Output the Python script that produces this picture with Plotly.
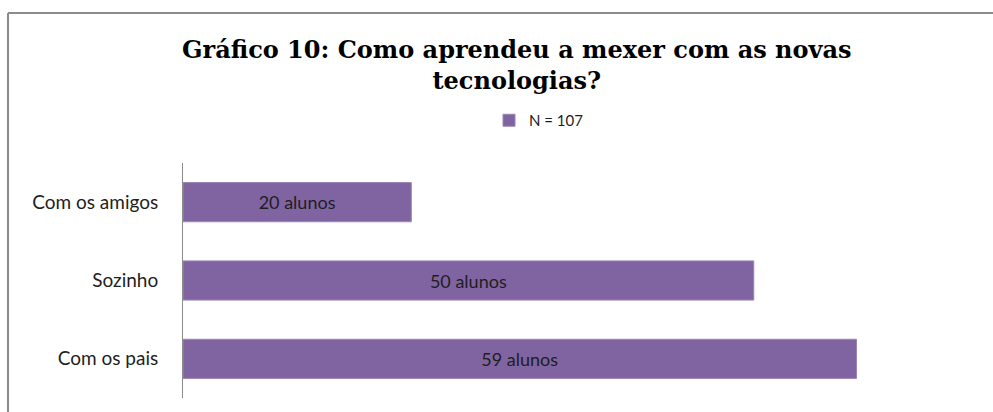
import plotly.graph_objects as go

# Survey answers, listed bottom-to-top as Plotly stacks categorical y values
categories = ["Com os pais", "Sozinho", "Com os amigos"]
students = [59, 50, 20]
series_name = "N = 107"
title_text = "Gráfico 10: Como aprendeu a mexer com as novas<br>tecnologias?"

W, H = 993, 412
L, R, T, B = 183, 68, 163, 14
plot_w = W - L - R
plot_h = H - T - B


def px_x(px):
    return (px - L) / plot_w


def px_y(py):
    return (H - B - py) / plot_h


fig = go.Figure(
    go.Bar(
        x=students,
        y=categories,
        orientation="h",
        name=series_name,
        marker=dict(color="#8064A2", line=dict(color="#9a85b6", width=1)),
        texttemplate="%{x} alunos",
        textposition="inside",
        insidetextanchor="middle",
        textfont=dict(family="Lato", size=18, color="#1e1e1e"),
        cliponaxis=False,
    )
)

fig.update_layout(
    width=W,
    height=H,
    margin=dict(l=L, r=R, t=T, b=B, pad=0),
    paper_bgcolor="white",
    plot_bgcolor="white",
    bargap=0.5,
    showlegend=True,
    legend=dict(
        x=px_x(489),
        y=px_y(104),
        xanchor="left",
        yanchor="top",
        font=dict(family="Lato", size=15, color="#1e1e1e"),
        bgcolor="rgba(0,0,0,0)",
    ),
    xaxis=dict(
        range=[0, 65],
        showgrid=False,
        zeroline=False,
        showticklabels=False,
        showline=False,
        ticks="",
    ),
    yaxis=dict(
        showgrid=False,
        showline=True,
        linecolor="#8c8c8c",
        linewidth=1,
        ticks="",
        ticklabelstandoff=20,
        tickfont=dict(family="Lato", size=19, color="#1e1e1e"),
    ),
    annotations=[
        dict(
            text="<b>" + title_text + "</b>",
            xref="paper",
            yref="paper",
            x=px_x(517),
            y=px_y(65),
            xanchor="center",
            yanchor="middle",
            showarrow=False,
            font=dict(family="DejaVu Serif", size=24, color="#000000"),
        )
    ],
    shapes=[
        # outer chart frame: top and left edges
        dict(type="line", xref="paper", yref="paper",
             x0=px_x(8), x1=px_x(W + 2), y0=px_y(13), y1=px_y(13),
             line=dict(color="#8c8c8c", width=2)),
        dict(type="line", xref="paper", yref="paper",
             x0=px_x(8), x1=px_x(8), y0=px_y(13), y1=px_y(H + 2),
             line=dict(color="#8c8c8c", width=2)),
    ],
)

fig.write_html("out.html")
